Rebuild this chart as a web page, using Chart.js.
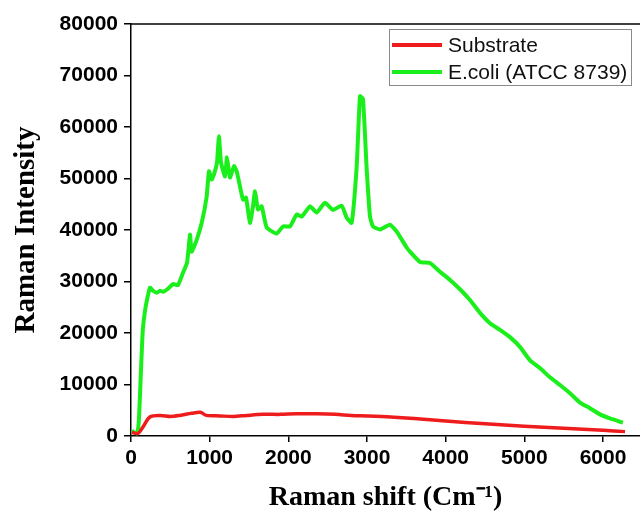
<!DOCTYPE html>
<html>
<head>
<meta charset="utf-8">
<script src="https://cdn.jsdelivr.net/npm/chart.js@4.4.1/dist/chart.umd.min.js"></script>
<style>
    html, body { margin: 0; padding: 0; background: #ffffff; }
    canvas { display: block; }
</style>
</head>
<body>
<canvas id="chart-raman" width="640" height="521"></canvas>
<script>
// Raman 光谱数据
const substrateShift = [10, 90, 150, 240, 370, 500, 620, 770, 880, 960, 1130, 1300, 1470, 1680, 1900, 2100, 2360, 2600, 2800, 3000, 3300, 3600, 4000, 4500, 5000, 5500, 6000, 6280];
const substrateIntensity = [700, 500, 1700, 3700, 4000, 3800, 4000, 4400, 4600, 4000, 3900, 3800, 4000, 4200, 4200, 4300, 4300, 4200, 4000, 3900, 3700, 3400, 2900, 2400, 1900, 1500, 1100, 850];

const ecoliShift = [13, 38, 76, 100, 127, 150, 180, 203, 241, 280, 327, 369, 407, 470, 534, 597, 661, 712, 750, 771, 835, 899, 962, 991, 1026, 1055, 1093, 1118, 1144, 1195, 1220, 1258, 1309, 1343, 1385, 1424, 1462, 1512, 1551, 1576, 1614, 1661, 1725, 1852, 1932, 2021, 2106, 2170, 2275, 2360, 2466, 2567, 2678, 2742, 2805, 2869, 2911, 2949, 2996, 3038, 3076, 3165, 3292, 3377, 3419, 3504, 3546, 3673, 3800, 3927, 4055, 4182, 4309, 4436, 4563, 4690, 4817, 4944, 5071, 5198, 5325, 5453, 5580, 5707, 5834, 5961, 6088, 6253];
const ecoliIntensity = [1100, 700, 500, 3000, 12800, 20600, 24500, 26400, 28800, 28200, 27800, 28200, 28000, 28600, 29500, 29300, 31700, 33600, 39100, 35800, 38100, 41400, 46500, 51400, 49800, 50800, 53100, 58200, 53100, 50400, 54100, 50200, 52400, 51400, 48500, 45900, 46300, 41400, 44600, 47500, 44000, 44600, 40500, 39300, 40700, 40700, 43000, 42600, 44600, 43400, 45300, 43900, 44700, 42400, 41400, 52400, 66000, 65400, 51800, 42600, 40700, 40100, 41000, 39700, 38700, 36600, 35800, 33800, 33600, 31900, 30300, 28500, 26400, 23900, 21900, 20600, 19200, 17300, 14700, 13200, 11400, 9900, 8300, 6500, 5400, 4200, 3400, 2600];

const xTickValues = [0, 1000, 2000, 3000, 4000, 5000, 6000];
const yTickValues = [0, 10000, 20000, 30000, 40000, 50000, 60000, 70000, 80000];

const COLORS = {
    red: '#ee1c1c',
    green: '#1bef1b',
    axis: '#000000',
};

function toPoints(xs, ys) {
    return xs.map((x, i) => ({ x: x, y: ys[i] }));
}

// 上边框
const frameTop = {
    id: 'frameTop',
    afterDraw(chart) {
        const { ctx, chartArea } = chart;
        ctx.save();
        ctx.strokeStyle = COLORS.axis;
        ctx.lineWidth = 1.5;
        ctx.beginPath();
        ctx.moveTo(chartArea.left, chartArea.top);
        ctx.lineTo(chartArea.right, chartArea.top);
        ctx.stroke();
        ctx.restore();
    },
};

// 带边框的图例
const boxLegend = {
    id: 'boxLegend',
    afterDraw(chart) {
        const ctx = chart.ctx;
        const x0 = 389, y0 = 29, w = 242, h = 56;
        ctx.save();
        ctx.fillStyle = '#ffffff';
        ctx.fillRect(x0, y0, w, h);
        ctx.strokeStyle = '#8a8a8a';
        ctx.lineWidth = 1;
        ctx.strokeRect(x0 + 0.5, y0 + 0.5, w, h);
        ctx.font = "21px 'Liberation Sans', Arial, sans-serif";
        ctx.textBaseline = 'middle';
        ctx.fillStyle = '#111111';
        chart.data.datasets.forEach((ds, i) => {
            const y = y0 + 16 + i * 27;
            ctx.strokeStyle = ds.borderColor;
            ctx.lineWidth = 4;
            ctx.beginPath();
            ctx.moveTo(x0 + 3, y);
            ctx.lineTo(x0 + 53, y);
            ctx.stroke();
            ctx.fillText(ds.label, x0 + 59, y + 1);
        });
        ctx.restore();
    },
};

const tickFont = { family: "'Liberation Sans', Arial, sans-serif", size: 21, weight: 'bold' };
const titleFont = { family: "'Liberation Serif', 'Times New Roman', serif", size: 28, weight: 'bold' };

new Chart(document.getElementById('chart-raman'), {
    type: 'line',
    data: {
        datasets: [
            {
                label: 'Substrate',
                data: toPoints(substrateShift, substrateIntensity),
                borderColor: COLORS.red,
                backgroundColor: COLORS.red,
                borderWidth: 3.5,
                pointRadius: 0,
                tension: 0.3,
            },
            {
                label: 'E.coli (ATCC 8739)',
                data: toPoints(ecoliShift, ecoliIntensity),
                borderColor: COLORS.green,
                backgroundColor: COLORS.green,
                borderWidth: 4,
                pointRadius: 0,
                tension: 0.15,
            },
        ],
    },
    options: {
        responsive: false,
        animation: false,
        devicePixelRatio: 1,
        layout: { padding: { top: 24, right: 0, bottom: 0, left: 0 } },
        plugins: {
            legend: { display: false },
            tooltip: { enabled: false },
        },
        scales: {
            x: {
                type: 'linear',
                min: 0,
                max: 6470,
                border: { color: COLORS.axis, width: 1.5 },
                grid: { drawOnChartArea: false, color: COLORS.axis, tickLength: 6, lineWidth: 1.5 },
                ticks: {
                    color: '#000000',
                    font: tickFont,
                    padding: 4,
                    maxRotation: 0,
                    autoSkip: false,
                    callback: (v) => String(v),
                },
                afterBuildTicks(scale) {
                    scale.ticks = xTickValues.map(v => ({ value: v }));
                },
                title: {
                    display: true,
                    text: 'Raman shift (Cm\u207B\u00B9)',
                    color: '#000000',
                    font: titleFont,
                    padding: { top: 0, bottom: 6 },
                },
                afterFit(scale) { scale.height = 85; },
            },
            y: {
                min: 0,
                max: 80000,
                border: { color: COLORS.axis, width: 1.5 },
                grid: { drawOnChartArea: false, color: COLORS.axis, tickLength: 7, lineWidth: 1.5 },
                ticks: {
                    color: '#000000',
                    font: tickFont,
                    padding: 6,
                    autoSkip: false,
                    callback: (v) => String(v),
                },
                afterBuildTicks(scale) {
                    scale.ticks = yTickValues.map(v => ({ value: v }));
                },
                title: {
                    display: true,
                    text: 'Raman Intensity',
                    color: '#000000',
                    font: Object.assign({}, titleFont, { size: 29 }),
                    padding: { top: 9, bottom: 0 },
                },
                afterFit(scale) { scale.width = 131; },
            },
        },
    },
    plugins: [frameTop, boxLegend],
});
</script>
</body>
</html>
